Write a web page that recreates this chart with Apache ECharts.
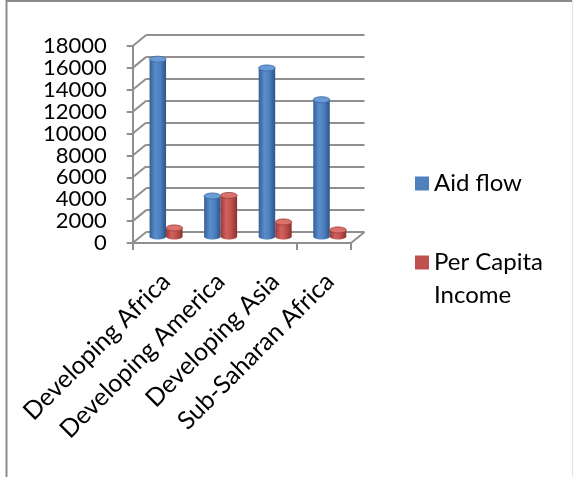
<!DOCTYPE html>
<html>
<head>
<meta charset="utf-8">
<script src="https://cdn.jsdelivr.net/npm/echarts@6/dist/echarts.min.js"></script>
<style>
html,body{margin:0;padding:0;background:#fff;}
#chart{width:573px;height:477px;}
</style>
</head>
<body>
<div id="chart"></div>
<script>
// ---- data ----
var categories = ['Developing Africa', 'Developing America', 'Developing Asia', 'Sub-Saharan Africa'];
var aidFlow = [16200, 3700, 15400, 12500];
var perCapitaIncome = [780, 3750, 1330, 600];
var seriesNames = ['Aid flow', 'Per Capita Income'];
var yTicks = [0, 2000, 4000, 6000, 8000, 10000, 12000, 14000, 16000, 18000];

// ---- style ----
var FONT = 'Lato';
var GRID_COLOR = '#8f8f8f';
var DEPTH_X = 13.5, DEPTH_Y = -11;
var BLUE = '#4F81BD', RED = '#C0504D';
var BAR_W = 16.5;

function grad(c0, c1, c2, c3) {
  return new echarts.graphic.LinearGradient(0, 0, 1, 0, [
    {offset: 0, color: c0}, {offset: 0.35, color: c1}, {offset: 0.65, color: c2}, {offset: 1, color: c3}
  ]);
}
var styles = [
  {body: grad('#365f96', '#5a8dcc', '#4d7fbd', '#2c5388'), top: '#6b9bd6', edge: '#3b669e'},
  {body: grad('#9a3a37', '#d1625e', '#c0504d', '#883230'), top: '#d9716d', edge: '#9c3d3a'}
];

function cylinder(side) {
  return function (params, api) {
    var idx = api.value(0), val = api.value(1);
    var top = api.coord([idx, val]);
    var bot = api.coord([idx, 0]);
    var x0 = side === 0 ? top[0] - BAR_W : top[0];
    var cx = x0 + BAR_W / 2;
    var st = styles[side];
    return {
      type: 'group',
      children: [
        {type: 'ellipse', shape: {cx: cx, cy: bot[1], rx: BAR_W / 2, ry: 3}, style: {fill: st.body}},
        {type: 'rect', shape: {x: x0, y: top[1], width: BAR_W, height: bot[1] - top[1]}, style: {fill: st.body}},
        {type: 'ellipse', shape: {cx: cx, cy: top[1], rx: BAR_W / 2, ry: 3}, style: {fill: st.top, stroke: st.edge, lineWidth: 0.8}}
      ]
    };
  };
}

var chart = echarts.init(document.getElementById('chart'), null, {renderer: 'canvas'});

var option = {
  backgroundColor: '#fff',
  animation: false,
  textStyle: {fontFamily: FONT},
  graphic: [
    {type: 'line', shape: {x1: 6.5, y1: 0, x2: 6.5, y2: 477}, style: {stroke: '#8c8c8c', lineWidth: 2}, z: 100},
    {type: 'line', shape: {x1: 6, y1: 1, x2: 573, y2: 1}, style: {stroke: '#8c8c8c', lineWidth: 2}, z: 100},
    {type: 'line', shape: {x1: 572.5, y1: 0, x2: 572.5, y2: 477}, style: {stroke: '#e3e3e3', lineWidth: 1}, z: 100}
  ],
  legend: {
    orient: 'vertical',
    left: 415, top: 167,
    padding: 0,
    itemWidth: 14, itemHeight: 14,
    itemGap: 13,
    icon: 'rect',
    data: seriesNames,
    formatter: function (n) { return n === 'Per Capita Income' ? '\nPer Capita\nIncome' : n; },
    textStyle: {fontFamily: FONT, fontSize: 24, color: '#000', lineHeight: 33}
  },
  grid: [
    {left: 132.7, top: 46, width: 218.3, height: 197},   // front
    {left: 146.2, top: 35, width: 218.3, height: 197},   // back wall
    {left: 138.75, top: 39.5, width: 218.3, height: 197} // bars plane
  ],
  xAxis: [
    {gridIndex: 0, type: 'category', data: categories,
      axisLine: {lineStyle: {color: GRID_COLOR, width: 2}},
      axisTick: {show: true, length: 7, lineStyle: {color: GRID_COLOR, width: 2}},
      axisLabel: {show: false}},
    {gridIndex: 1, type: 'category', data: categories, show: false},
    {gridIndex: 2, type: 'category', data: categories,
      axisLine: {show: false}, axisTick: {show: false},
      axisLabel: {rotate: 45, margin: 41, fontFamily: FONT, fontSize: 25, color: '#000', interval: 0}}
  ],
  yAxis: [
    {gridIndex: 0, type: 'value', min: 0, max: 18000, interval: 2000,
      axisLine: {show: true, lineStyle: {color: GRID_COLOR, width: 2}},
      axisTick: {show: true, length: 6, lineStyle: {color: GRID_COLOR, width: 2}},
      splitLine: {show: false},
      axisLabel: {margin: 26, fontFamily: FONT, fontSize: 22, color: '#000',
        formatter: function (v) { return String(v); }}},
    {gridIndex: 1, type: 'value', min: 0, max: 18000, interval: 2000,
      axisLine: {show: false}, axisTick: {show: false}, axisLabel: {show: false},
      splitLine: {show: true, lineStyle: {color: GRID_COLOR, width: 2}}},
    {gridIndex: 2, type: 'value', min: 0, max: 18000, interval: 2000, show: false,
      splitLine: {show: false}}
  ],
  series: [
    {
      name: 'depth',
      type: 'custom', xAxisIndex: 0, yAxisIndex: 0, silent: true, z: 1,
      data: yTicks.map(function (v) { return [0, v]; }),
      renderItem: function (params, api) {
        var p = api.coord([0, api.value(1)]);
        var cs = params.coordSys;
        var kids = [{type: 'line', shape: {x1: cs.x, y1: p[1], x2: cs.x + DEPTH_X, y2: p[1] + DEPTH_Y},
          style: {stroke: GRID_COLOR, lineWidth: 2}}];
        if (api.value(1) === 0) {
          kids.push({type: 'line', shape: {x1: cs.x + cs.width, y1: p[1], x2: cs.x + cs.width + DEPTH_X, y2: p[1] + DEPTH_Y},
            style: {stroke: GRID_COLOR, lineWidth: 2}});
        }
        return {type: 'group', children: kids};
      }
    },
    {
      name: seriesNames[0], type: 'custom', xAxisIndex: 2, yAxisIndex: 2, z: 5,
      itemStyle: {color: BLUE},
      data: aidFlow.map(function (v, i) { return [i, v]; }),
      renderItem: cylinder(0)
    },
    {
      name: seriesNames[1], type: 'custom', xAxisIndex: 2, yAxisIndex: 2, z: 5,
      itemStyle: {color: RED},
      data: perCapitaIncome.map(function (v, i) { return [i, v]; }),
      renderItem: cylinder(1)
    }
  ]
};
chart.setOption(option);
</script>
</body>
</html>
